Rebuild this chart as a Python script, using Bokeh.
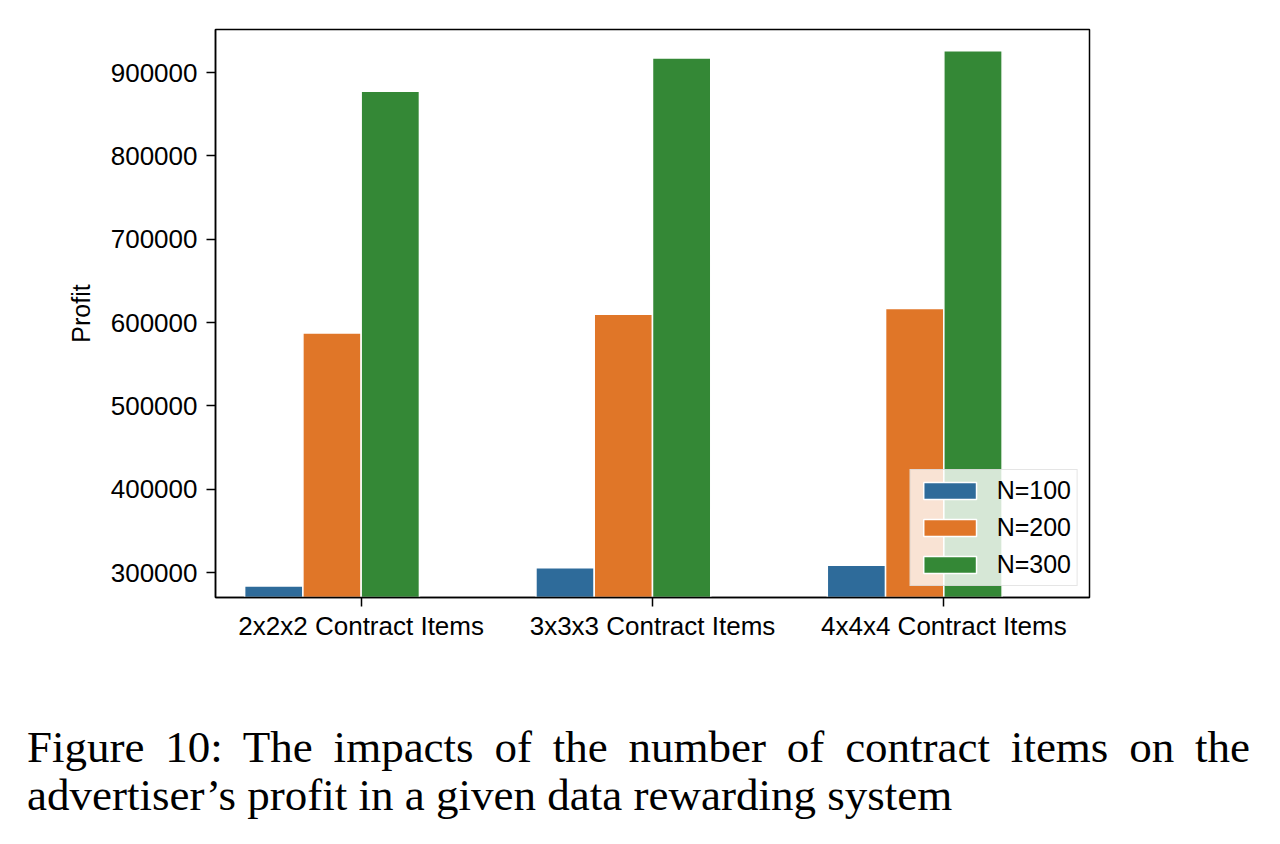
from bokeh.plotting import figure
from bokeh.models import Range1d, FixedTicker, BasicTickFormatter, Legend, LegendItem, Div
from bokeh.layouts import column
from bokeh.embed import file_html
from bokeh.resources import INLINE

categories = ["2x2x2 Contract Items", "3x3x3 Contract Items", "4x4x4 Contract Items"]
series_names = ["N=100", "N=200", "N=300"]
n100 = [283700, 305600, 308700]
n200 = [587400, 610000, 616700]
n300 = [877400, 917400, 926200]
y_ticks = [300000, 400000, 500000, 600000, 700000, 800000, 900000]

colors = ["#2e6b9a", "#e07628", "#348836"]
offsets = [-0.3, -0.1, 0.1]
series = [n100, n200, n300]

FONT = "Liberation Sans"

p = figure(width=1280, height=723, output_backend="svg", toolbar_location=None,
           x_range=Range1d(-0.5, 2.5), y_range=Range1d(270000, 951600),
           min_border_left=215, min_border_right=191, min_border_top=29, min_border_bottom=126)

items = []
for name, vals, col, off in zip(series_names, series, colors, offsets):
    xs = [i + off for i in range(len(categories))]
    r = p.vbar(x=xs, top=vals, bottom=270000, width=0.2, fill_color=col, line_color="white", line_width=1.5)
    items.append(LegendItem(label=name, renderers=[r]))

p.xgrid.visible = False
p.ygrid.visible = False
p.outline_line_color = "black"
p.outline_line_width = 1.5
p.outline_line_alpha = 1.0
p.background_fill_color = "white"
p.border_fill_color = "white"

p.xaxis.ticker = FixedTicker(ticks=list(range(len(categories))))
p.xaxis.major_label_overrides = {i: c for i, c in enumerate(categories)}
p.yaxis.ticker = FixedTicker(ticks=y_ticks)
p.yaxis.formatter = BasicTickFormatter(use_scientific=False)
p.yaxis.axis_label = "Profit"

for ax in (p.xaxis[0], p.yaxis[0]):
    ax.axis_line_color = "black"
    ax.axis_line_width = 1.5
    ax.major_tick_line_color = "black"
    ax.major_tick_line_width = 1.5
    ax.major_tick_out = 9
    ax.major_tick_in = 0
    ax.minor_tick_line_color = None
    ax.major_label_text_font = FONT
    ax.major_label_text_font_size = "26px"
    ax.major_label_text_color = "black"
    ax.axis_label_text_font = FONT
    ax.axis_label_text_font_size = "25px"
    ax.axis_label_text_font_style = "normal"
    ax.axis_label_text_color = "black"
p.yaxis.major_label_standoff = 9
p.xaxis.major_label_standoff = 4
p.yaxis.axis_label_standoff = 13

legend = Legend(items=items, location="bottom_right")
legend.margin = 11
legend.padding = 6
legend.glyph_width = 66
legend.glyph_height = 21
legend.label_standoff = 14
legend.label_height = 26
legend.spacing = 8
legend.label_text_font = FONT
legend.label_text_font_size = "25px"
legend.label_text_color = "black"
legend.background_fill_color = "white"
legend.background_fill_alpha = 0.8
legend.border_line_color = "#cccccc"
legend.border_line_width = 1.5
p.add_layout(legend)

caption = Div(text=(
    '<div style="width:1223px;font-family:\'Liberation Serif\',serif;font-size:45px;line-height:48px;color:black;">'
    '<div style="display:block;width:1223px;text-align:justify;text-align-last:justify;white-space:normal;">'
    'Figure 10: The impacts of the number of contract items on the</div>'
    '<div style="display:block;width:1223px;text-align:left;white-space:normal;">'
    'advertiser\u2019s profit in a given data rewarding system</div>'
    '</div>'), width=1223, height=110, margin=(0, 0, 0, 27))

layout = column(p, caption, spacing=0)

open("out.html", "w").write(file_html(layout, INLINE))
